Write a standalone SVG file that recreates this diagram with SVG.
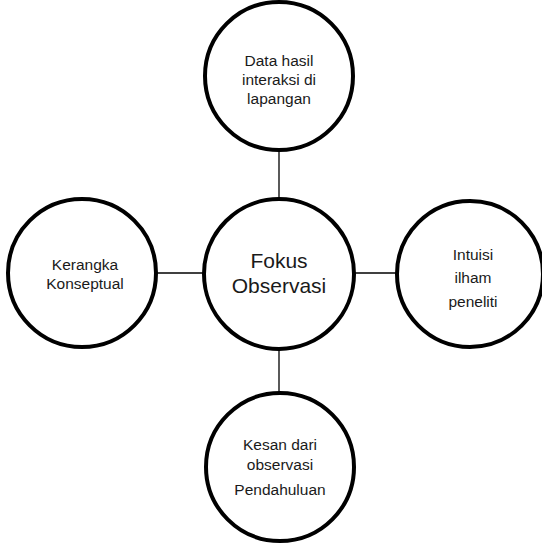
<svg xmlns="http://www.w3.org/2000/svg" width="542" height="545" viewBox="0 0 542 545">
  <style>
    .node { fill: #ffffff; stroke: #000000; stroke-width: 4; }
    .link { stroke: #000000; stroke-width: 1.3; fill: none; }
    .lbl { font-family: "Liberation Sans", Arial, sans-serif; font-size: 15.5px; fill: #1a1a1a; text-anchor: middle; }
    .big { font-size: 21px; }
  </style>
  <rect width="542" height="545" fill="#ffffff"/>
  <g id="connectors">
    <line class="link" x1="279" y1="150" x2="279" y2="199"/>
    <line class="link" x1="157" y1="273" x2="203" y2="273"/>
    <line class="link" x1="355" y1="273" x2="397" y2="273"/>
    <line class="link" x1="279" y1="349" x2="279" y2="393"/>
  </g>
  <g id="node-top">
    <circle class="node" cx="279" cy="76" r="74"/>
    <text class="lbl" x="279" y="66">Data hasil</text>
    <text class="lbl" x="279" y="85">interaksi di</text>
    <text class="lbl" x="279" y="104">lapangan</text>
  </g>
  <g id="node-center">
    <circle class="node" cx="279" cy="274" r="75"/>
    <text class="lbl big" x="279" y="268">Fokus</text>
    <text class="lbl big" x="279" y="293">Observasi</text>
  </g>
  <g id="node-left">
    <circle class="node" cx="82" cy="273" r="74"/>
    <text class="lbl" x="85" y="270">Kerangka</text>
    <text class="lbl" x="85" y="289">Konseptual</text>
  </g>
  <g id="node-right">
    <circle class="node" cx="470" cy="274" r="73"/>
    <text class="lbl" x="473" y="260">Intuisi</text>
    <text class="lbl" x="473" y="283">ilham</text>
    <text class="lbl" x="473" y="307">peneliti</text>
  </g>
  <g id="node-bottom">
    <circle class="node" cx="280" cy="467" r="74"/>
    <text class="lbl" x="280" y="450">Kesan dari</text>
    <text class="lbl" x="280" y="470">observasi</text>
    <text class="lbl" x="280" y="495">Pendahuluan</text>
  </g>
</svg>
